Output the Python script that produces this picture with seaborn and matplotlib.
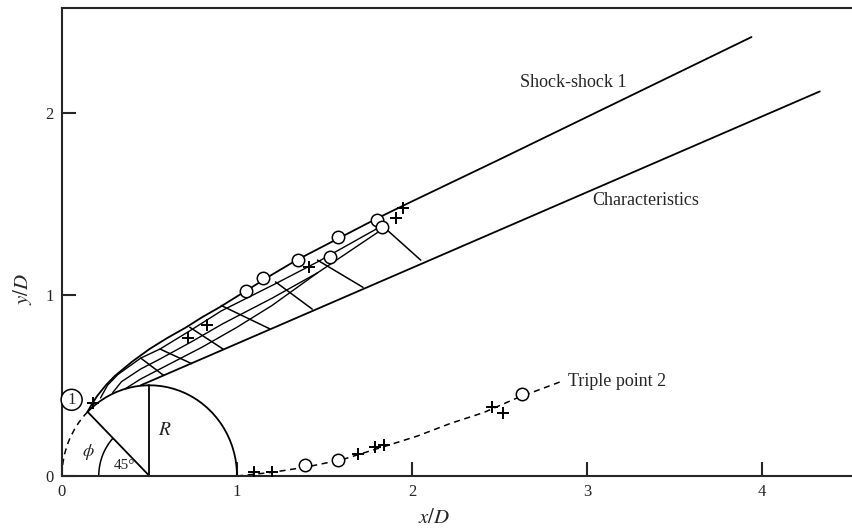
import numpy as np
import pandas as pd
import seaborn as sns
import matplotlib
matplotlib.use('Agg')
from matplotlib import pyplot as plt
from matplotlib.patches import Arc

# shock-shock 1 (upper envelope)
shock_x = [0.146, 0.17, 0.20, 0.25, 0.30, 0.40, 0.50, 0.60, 0.71, 0.80, 0.90, 1.00,
           1.10, 1.20, 1.34, 1.50, 1.65, 1.80, 1.97, 2.50, 3.94]
shock_y = [0.354, 0.395, 0.44, 0.50, 0.55, 0.63, 0.70, 0.76, 0.82, 0.875, 0.93, 0.99,
           1.05, 1.11, 1.19, 1.27, 1.345, 1.42, 1.50, 1.745, 2.42]

# limiting characteristic (lower straight line)
char_x = [0.45, 4.33]
char_y = [0.50, 2.12]

# inner characteristics of the net, running between shock and limiting line
inner1_x = [0.22, 0.26, 0.32, 0.45, 0.56, 0.73, 0.91, 1.22, 1.46, 1.83]
inner1_y = [0.43, 0.50, 0.56, 0.65, 0.70, 0.80, 0.91, 1.06, 1.18, 1.38]
inner2_x = [0.29, 0.34, 0.45, 0.56, 0.74, 0.92, 1.20, 1.46, 1.83]
inner2_y = [0.46, 0.52, 0.59, 0.645, 0.74, 0.84, 0.98, 1.12, 1.36]
inner3_x = [0.36, 0.45, 0.60, 0.80, 1.00, 1.20, 1.46]
inner3_y = [0.48, 0.535, 0.61, 0.71, 0.82, 0.94, 1.12]

# cross characteristics (start on shock side, end on limiting line)
cross_x0 = [0.45, 0.56, 0.73, 0.91, 1.22, 1.46, 1.83]
cross_y0 = [0.65, 0.70, 0.82, 0.94, 1.07, 1.19, 1.38]
cross_x1 = [0.58, 0.74, 0.92, 1.19, 1.43, 1.72, 2.05]
cross_y1 = [0.555, 0.62, 0.70, 0.81, 0.92, 1.04, 1.19]

# experimental points near the shock
shock_circ_x = [1.05, 1.15, 1.35, 1.53, 1.58, 1.80, 1.83]
shock_circ_y = [1.02, 1.09, 1.19, 1.21, 1.32, 1.41, 1.37]
shock_plus_x = [0.18, 0.72, 0.83, 1.41, 1.91, 1.95]
shock_plus_y = [0.40, 0.76, 0.83, 1.15, 1.42, 1.48]

# triple point 2 path and points
triple_x = [1.00, 1.20, 1.40, 1.60, 1.80, 2.03, 2.22, 2.41, 2.60, 2.85]
triple_y = [0.00, 0.02, 0.05, 0.09, 0.15, 0.22, 0.29, 0.35, 0.43, 0.52]
triple_circ_x = [1.39, 1.58, 2.63]
triple_circ_y = [0.06, 0.09, 0.45]
triple_plus_x = [1.10, 1.20, 1.69, 1.79, 1.84, 2.46, 2.52]
triple_plus_y = [0.02, 0.02, 0.12, 0.16, 0.17, 0.38, 0.35]

# cylinder
cyl_cx, cyl_r = 0.5, 0.5

sns.set_style('ticks')
plt.rcParams['font.family'] = ['Liberation Serif', 'DejaVu Serif']
plt.rcParams['mathtext.fontset'] = 'stix'

fig = plt.figure(figsize=(8.53, 5.32), dpi=100)
ax = fig.add_axes([62 / 853, 56 / 532, 791 / 853, 468 / 532])

lw = 1.3
sns.lineplot(x=shock_x, y=shock_y, sort=False, color='black', linewidth=lw, ax=ax)
sns.lineplot(x=char_x, y=char_y, sort=False, color='black', linewidth=lw, ax=ax)
for xs, ys in [(inner1_x, inner1_y), (inner2_x, inner2_y), (inner3_x, inner3_y)]:
    sns.lineplot(x=xs, y=ys, sort=False, color='black', linewidth=1.0, ax=ax)

cross = pd.DataFrame({
    'x': cross_x0 + cross_x1,
    'y': cross_y0 + cross_y1,
    'seg': list(range(len(cross_x0))) * 2,
})
sns.lineplot(data=cross, x='x', y='y', units='seg', estimator=None, sort=False,
             color='black', linewidth=1.1, ax=ax)

sns.lineplot(x=triple_x, y=triple_y, sort=False, color='black', linewidth=1.1,
             linestyle=(0, (4, 3)), ax=ax)

for xs, ys in [(shock_circ_x, shock_circ_y), (triple_circ_x, triple_circ_y)]:
    sns.scatterplot(x=xs, y=ys, marker='o', s=80, facecolor='white',
                    edgecolor='black', linewidth=1.1, zorder=5, ax=ax)
for xs, ys in [(shock_plus_x, shock_plus_y), (triple_plus_x, triple_plus_y)]:
    sns.scatterplot(x=xs, y=ys, marker='+', s=80, color='black',
                    linewidth=1.4, zorder=5, ax=ax)

# cylinder outline, radius, angle
ax.add_patch(Arc((cyl_cx, 0), 2 * cyl_r, 2 * cyl_r, theta1=0, theta2=135,
                 color='black', linewidth=lw))
ax.add_patch(Arc((cyl_cx, 0), 2 * cyl_r, 2 * cyl_r, theta1=135, theta2=180,
                 color='black', linewidth=1.1, linestyle=(0, (4, 3))))
ax.add_patch(Arc((cyl_cx, 0), 0.58, 0.6, theta1=135, theta2=180,
                 color='black', linewidth=1.1))
ax.plot([cyl_cx, cyl_cx - 0.354], [0, 0.354], color='black', linewidth=lw)
ax.plot([cyl_cx, cyl_cx], [0, 0.5], color='black', linewidth=lw)

ax.text(0.585, 0.25, '$R$', fontsize=14, ha='center', va='center')
ax.text(0.15, 0.13, r'$\phi$', fontsize=13, ha='center', va='center')
ax.text(0.355, 0.06, '45°', fontsize=11, ha='center', va='center')
ax.text(0.055, 0.42, '1', fontsize=12, ha='center', va='center',
        bbox=dict(boxstyle='circle,pad=0.15', facecolor='white', edgecolor='black', linewidth=1.1))

ax.text(2.62, 2.17, 'Shock-shock 1', fontsize=13, ha='left', va='center')
ax.text(3.03, 1.52, 'Characteristics', fontsize=13, ha='left', va='center')
ax.text(2.89, 0.52, 'Triple point 2', fontsize=13, ha='left', va='center')

ax.set_xlim(0, 4.52)
ax.set_ylim(0, 2.58)
ax.set_xticks([0, 1, 2, 3, 4])
ax.set_yticks([0, 1, 2])
ax.tick_params(direction='in', length=10, width=1.5, labelsize=12, pad=6)
ax.set_xlabel('$x/D$', fontsize=15)
ax.set_ylabel('$y/D$', fontsize=15)
ax.xaxis.set_label_coords(0.47, -0.07)
ax.yaxis.set_label_coords(-0.036, 0.40)
for side in ['left', 'bottom', 'top']:
    ax.spines[side].set_linewidth(1.5)
ax.spines['right'].set_visible(False)

plt.savefig('out.png', dpi=100)
